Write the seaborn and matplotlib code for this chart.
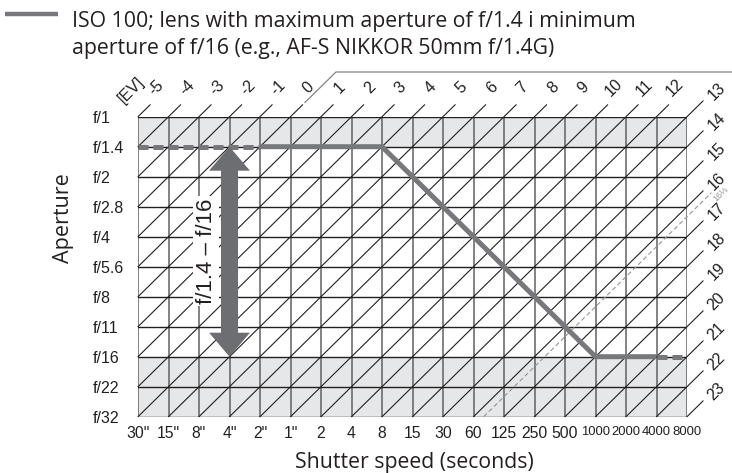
import matplotlib
matplotlib.use("Agg")
import matplotlib.pyplot as plt
from matplotlib import font_manager
from matplotlib.patches import Polygon
from matplotlib.lines import Line2D
import seaborn as sns

# ---- chart data -------------------------------------------------------------
shutter_labels = ['30"', '15"', '8"', '4"', '2"', '1"', '2', '4', '8', '15', '30',
                  '60', '125', '250', '500', '1000', '2000', '4000', '8000']
aperture_labels = ['f/1', 'f/1.4', 'f/2', 'f/2.8', 'f/4', 'f/5.6', 'f/8',
                   'f/11', 'f/16', 'f/22', 'f/32']
ev_origin = -5                      # EV at 30" and f/1
ev_top = list(range(-5, 13))        # EV labels along the top edge
ev_right = list(range(13, 24))      # EV labels along the right edge
ev_marked = 16 + 1 / 3
ev_marked_label = "16⅓"

# exposure program: (shutter, aperture) points and the style of each segment
program_shutter = ['30"', '2"', '8', '1000', '4000', '8000']
program_aperture = ['f/1.4', 'f/1.4', 'f/1.4', 'f/16', 'f/16', 'f/16']
program_style = ['dashed', 'solid', 'solid', 'solid', 'dashed']

range_shutter = '4"'
range_apertures = ('f/1.4', 'f/16')
range_label = "f/1.4 – f/16"
shaded_bands = [('f/1', 'f/1.4'), ('f/16', 'f/32')]

legend_lines = ["ISO 100; lens with maximum aperture of f/1.4 i minimum",
                "aperture of f/16 (e.g., AF-S NIKKOR 50mm f/1.4G)"]
x_title = "Shutter speed (seconds)"
y_title = "Aperture"

# ---- styling ----------------------------------------------------------------
sns.set_style("white")
plt.rcParams['font.family'] = ['Liberation Sans', 'DejaVu Sans']
TITLE_FONT = ['Open Sans', 'DejaVu Sans']
installed = {f.name for f in font_manager.fontManager.ttflist}
NARROW = 'Liberation Sans Narrow' if 'Liberation Sans Narrow' in installed else None
GRID_DARK = '#231f20'
GRID_VERT = '#606164'
SHADE = '#e6e7e8'
PROGRAM = '#77787b'
ARROW = '#6d6e71'
EV_SIZE = 11.5

W, H = 732, 473
fig = plt.figure(figsize=(W / 100, H / 100), dpi=100)
ax = fig.add_axes([138 / W, 1 - 416.7 / H, 549 / W, 300 / H])

ncol = len(shutter_labels) - 1
nrow = len(aperture_labels) - 1
ax.set_xlim(0, ncol)
ax.set_ylim(nrow, 0)
for s in ax.spines.values():
    s.set_visible(False)

sx = {lab: i for i, lab in enumerate(shutter_labels)}
ay = {lab: i for i, lab in enumerate(aperture_labels)}

# shaded bands
for a0, a1 in shaded_bands:
    ax.axhspan(ay[a0], ay[a1], color=SHADE, lw=0, zorder=0)

# grid
for c in range(ncol + 1):
    ax.plot([c, c], [0, nrow], color=GRID_VERT, lw=1.1, zorder=1,
            solid_capstyle='projecting')
for r in range(nrow + 1):
    ax.plot([0, ncol], [r, r], color=GRID_DARK, lw=1.0, zorder=1.1,
            solid_capstyle='projecting')


def ev_segment(ev, top_ext=0.4, right_ext=0.53):
    """End points of the constant-EV line c + r = ev - ev_origin, clipped to the grid
    and extended outside the top / right edge."""
    s = ev - ev_origin
    start = (0, s) if s <= nrow else (s - nrow, nrow)
    if s <= ncol - 1e-9:
        end = (s, 0)
        ext = top_ext
    else:
        end = (ncol, s - ncol)
        ext = right_ext
    out = (end[0] + ext, end[1] - ext)
    return start, end, out


# EV diagonals
for ev in range(ev_top[0], ev_right[-1] + 1):
    start, end, out = ev_segment(ev)
    ax.plot([start[0], out[0]], [start[1], out[1]], color=GRID_DARK, lw=0.8,
            zorder=1.2, clip_on=False)

# EV labels
for ev in ev_top:
    s = ev - ev_origin
    ax.text(s + 0.6, -0.96, str(ev), rotation=45, ha='center', va='center',
            fontsize=EV_SIZE, color='#231f20', clip_on=False)
for ev in ev_right:
    s = ev - ev_origin
    ax.text(ncol + 0.97, s - ncol - 0.83, str(ev), rotation=45, ha='center',
            va='center', fontsize=EV_SIZE, color='#231f20', clip_on=False)
ax.text(-0.22, -0.9, "[EV]", rotation=45, ha='center', va='center',
        fontsize=EV_SIZE, color='#231f20', clip_on=False)

# bracket over the positive EV labels, continuing the EV 0 line
s0 = 0 - ev_origin
ax.plot([s0 + 0.47, s0 + 1.49, ncol + 1.5], [-0.47, -1.49, -1.49],
        color='#808285', lw=0.9, clip_on=False)

# marked EV 16 1/3
start, end, out = ev_segment(ev_marked, right_ext=0.8)
ax.plot([start[0], out[0]], [start[1], out[1]], color='#939598', lw=0.8,
        dashes=(4, 2.5), zorder=1.5, clip_on=False)
ax.text(out[0] + 0.3, out[1] + 0.05, ev_marked_label, rotation=45, ha='center',
        va='center', fontsize=6.5, color='#939598', clip_on=False)

# exposure program line
px = [sx[s] for s in program_shutter]
py = [ay[a] for a in program_aperture]
runs = []
for i, style in enumerate(program_style):
    if runs and runs[-1][0] == style:
        runs[-1][1].append(i + 1)
    else:
        runs.append([style, [i, i + 1]])
for style, idx in runs:
    kw = dict(color=PROGRAM, lw=3.6, zorder=3, solid_capstyle='butt',
              solid_joinstyle='miter', dash_capstyle='butt')
    if style == 'dashed':
        kw['dashes'] = (2, 1)
    sns.lineplot(x=[px[i] for i in idx], y=[py[i] for i in idx], ax=ax,
                 sort=False, estimator=None, **kw)

# double arrow showing the aperture range
xa = sx[range_shutter]
y0, y1 = ay[range_apertures[0]], ay[range_apertures[1]]
hw_shaft, hw_head, hl = 0.28, 0.67, 0.8
arrow_pts = [(xa, y0), (xa + hw_head, y0 + hl), (xa + hw_shaft, y0 + hl),
             (xa + hw_shaft, y1 - hl), (xa + hw_head, y1 - hl), (xa, y1),
             (xa - hw_head, y1 - hl), (xa - hw_shaft, y1 - hl),
             (xa - hw_shaft, y0 + hl), (xa - hw_head, y0 + hl)]
ax.add_patch(Polygon(arrow_pts, closed=True, facecolor=ARROW, edgecolor='none',
                     zorder=4))
ax.text(xa - 0.76, (y0 + y1) / 2 - 0.02, range_label, rotation=90, ha='center',
        va='center', fontsize=16, color='#231f20', zorder=5,
        bbox=dict(boxstyle='square,pad=0.12', fc='white', ec='none'))

# ticks
ax.set_xticks(range(len(shutter_labels)))
ax.set_xticklabels(shutter_labels)
ax.set_yticks(range(len(aperture_labels)))
ax.set_yticklabels(aperture_labels)
ax.tick_params(axis='x', length=0, pad=6.5, labelsize=11.3, colors='#231f20')
ax.tick_params(axis='y', length=0, pad=32.4, labelsize=11.5, colors='#231f20')
for lab in ax.get_yticklabels():
    lab.set_horizontalalignment('left')
for lab in ax.get_xticklabels():
    if len(lab.get_text()) >= 4:
        if NARROW:
            lab.set_family(NARROW)
            lab.set_fontsize(11.3)
        else:
            lab.set_fontsize(9.4)

# axis titles
ax.set_xlabel(x_title, fontsize=15.3, family=TITLE_FONT, color='#231f20')
ax.xaxis.set_label_coords((414 - 138) / 549, (416.7 - 462) / 300)
ax.xaxis.label.set_va('center')
ax.set_ylabel(y_title, fontsize=15.5, family=TITLE_FONT, color='#231f20')
ax.yaxis.set_label_coords((64 - 138) / 549, (416.7 - 218) / 300)
ax.yaxis.label.set_va('center')

# legend entry at the top
fig.add_artist(Line2D([5 / W, 58 / W], [1 - 14 / H, 1 - 14 / H], color=PROGRAM,
                      lw=3.2, solid_capstyle='butt'))
for i, line in enumerate(legend_lines):
    fig.text(72 / W, 1 - (27 + 27 * i) / H, line, ha='left', va='baseline',
             fontsize=15.3, family=TITLE_FONT, color='#231f20')

fig.savefig("out.png", dpi=100, facecolor='white')
